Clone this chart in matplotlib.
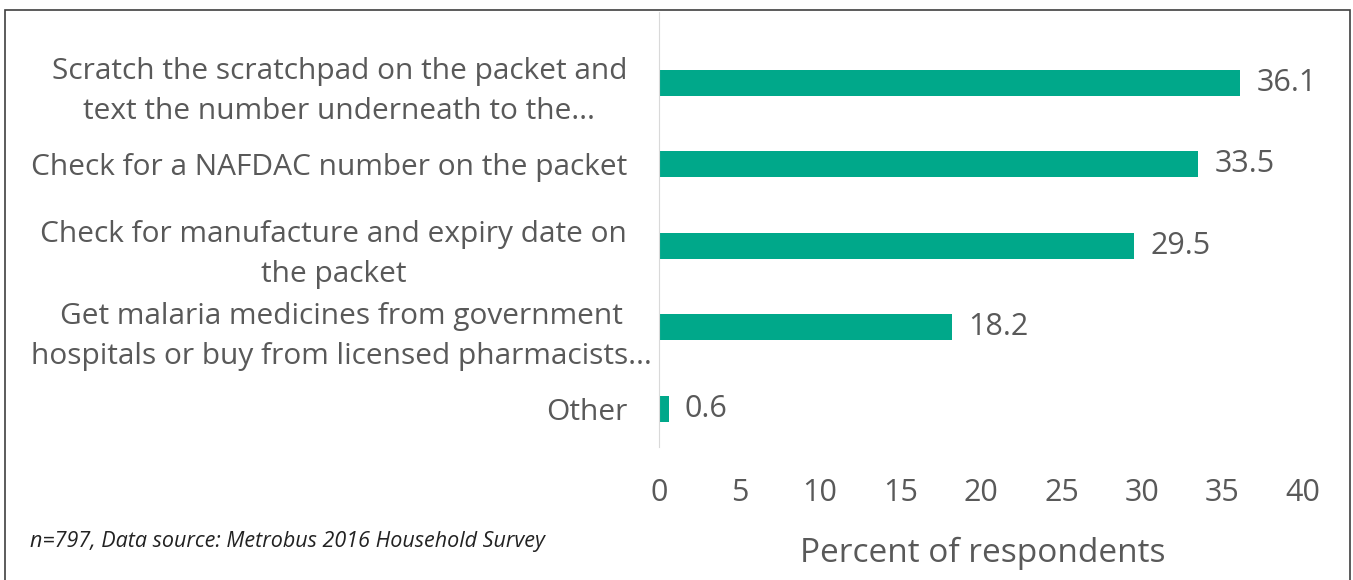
import matplotlib
matplotlib.use("Agg")
import matplotlib.pyplot as plt
import matplotlib.transforms as mtransforms
from matplotlib.patches import Rectangle

# Datos del grafico
categorias = [
    "Scratch the scratchpad on the packet and\ntext the number underneath to the...",
    "Check for a NAFDAC number on the packet",
    "Check for manufacture and expiry date on\nthe packet",
    "Get malaria medicines from government\nhospitals or buy from licensed pharmacists...",
    "Other",
]
porcentajes = [36.1, 33.5, 29.5, 18.2, 0.6]
ticks_x = [0, 5, 10, 15, 20, 25, 30, 35, 40]

gris = "#595959"
verde = "#00A88A"
plt.rcParams["font.family"] = ["Open Sans", "DejaVu Sans"]

W, H = 1353, 580
fig = plt.figure(figsize=(W / 100, H / 100), dpi=100)

# Marco exterior
fig.patches.append(Rectangle((5 / W, -0.01), (W - 3 - 5) / W, 1 - 10 / H + 0.01,
                             transform=fig.transFigure, fill=False,
                             edgecolor="#404040", linewidth=1.2))

# Area del grafico en pixeles
izq, der, arriba, abajo = 659, 1303, 12, 447
ax = fig.add_axes([izq / W, 1 - abajo / H, (der - izq) / W, (abajo - arriba) / H])

pos = list(range(len(categorias)))
ax.barh(pos, porcentajes, height=0.32, color=verde)
ax.set_xlim(0, 40)
ax.set_ylim(4.47, -0.87)

for y, v in zip(pos, porcentajes):
    ax.text(v + 1.0, y, f"{v}", va="center", ha="left", fontsize=22, color=gris)

ax.set_yticks(pos)
ax.set_yticklabels(categorias, fontsize=21.5, color=gris, multialignment="center",
                   linespacing=1.5)
ax.tick_params(axis="y", length=0, pad=23)
ax.set_xticks(ticks_x)
ax.set_xticklabels([str(t) for t in ticks_x], fontsize=22, color=gris)
ax.tick_params(axis="x", length=0, pad=22)

# la etiqueta larga se sale un poco hacia la derecha como en el original
etq = ax.get_yticklabels()[3]
etq.set_transform(etq.get_transform() + mtransforms.ScaledTranslation(0.25, 0, fig.dpi_scale_trans))

for lado in ["top", "right", "bottom"]:
    ax.spines[lado].set_visible(False)
ax.spines["left"].set_color("#d9d9d9")

fig.text(983 / W, 1 - 553 / H, "Percent of respondents", ha="center", va="center",
         fontsize=24, color=gris)
fig.text(30 / W, 1 - 542 / H, "n=797, Data source: Metrobus 2016 Household Survey",
         ha="left", va="center", fontsize=15.5, style="italic", color="#222222")

fig.savefig("out.png", dpi=100)
